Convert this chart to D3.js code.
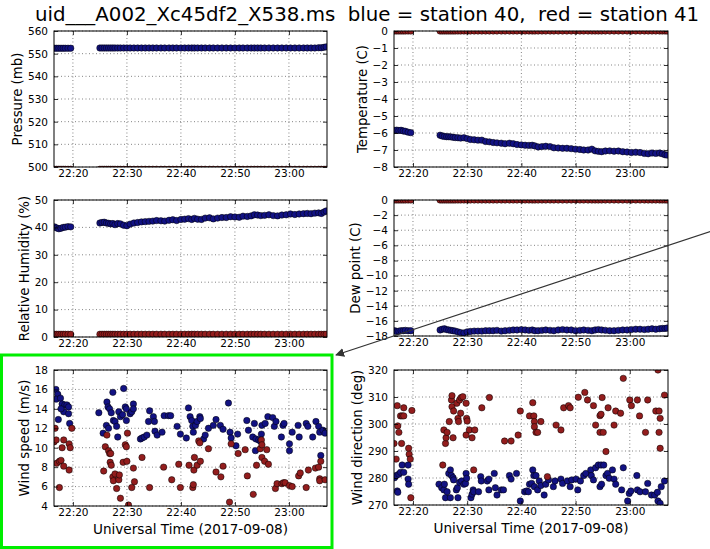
<!DOCTYPE html>
<html>
<head>
<meta charset="utf-8">
<script src="https://cdn.jsdelivr.net/npm/d3@7"></script>
<style>
  body { margin: 0; background: #fff; }
  svg { display: block; font-family: 'DejaVu Sans', sans-serif; }
</style>
</head>
<body>
<div id="chart"></div>
<script>
// minutes after 22:00 UTC, 2017-09-08
const thermoTimes = [16.6, 17.0, 17.4, 17.8, 18.2, 18.6, 19.1, 19.6,
  25.0, 25.4, 25.8, 26.2, 26.6, 27.0, 27.4, 27.8, 28.3, 28.8, 29.4, 30.0, 30.6, 31.3, 32.0, 32.7,
  33.4, 34.1, 34.8, 35.5, 36.3, 37.0, 37.8, 38.5, 39.2, 40.0, 40.7, 41.4, 42.0, 42.5, 43.1, 43.8,
  44.5, 45.3, 46.0, 46.8, 47.6, 48.4, 49.2, 50.0, 50.8, 51.5, 52.3, 53.0, 53.6, 54.2, 54.8, 55.5,
  56.3, 57.1, 57.9, 58.7, 59.5, 60.3, 61.1, 61.9, 62.7, 63.4, 64.1, 64.8, 65.5, 66.0, 66.5, 66.9]

const pressureBlue = [552.4, 552.4, 552.4, 552.4, 552.4, 552.4, 552.4, 552.4,
  552.5, 552.5, 552.5, 552.5, 552.5, 552.5, 552.5, 552.5, 552.5, 552.5, 552.5, 552.5, 552.5, 552.5, 552.5, 552.5,
  552.5, 552.5, 552.5, 552.5, 552.5, 552.5, 552.5, 552.5, 552.5, 552.5, 552.5, 552.5, 552.5, 552.5, 552.5, 552.5,
  552.5, 552.5, 552.5, 552.5, 552.5, 552.5, 552.5, 552.5, 552.5, 552.5, 552.5, 552.5, 552.5, 552.5, 552.5, 552.5,
  552.5, 552.5, 552.5, 552.5, 552.5, 552.5, 552.5, 552.5, 552.5, 552.5, 552.5, 552.5, 552.6, 552.6, 552.8, 553.0]
const pressureRed = [499.0, 499.0, 499.0, 499.0, 499.0, 499.0, 499.0, 499.0,
  499.0, 499.0, 499.0, 499.0, 499.0, 499.0, 499.0, 499.0, 499.0, 499.0, 499.0, 499.0, 499.0, 499.0, 499.0, 499.0,
  499.0, 499.0, 499.0, 499.0, 499.0, 499.0, 499.0, 499.0, 499.0, 499.0, 499.0, 499.0, 499.0, 499.0, 499.0, 499.0,
  499.0, 499.0, 499.0, 499.0, 499.0, 499.0, 499.0, 499.0, 499.0, 499.0, 499.0, 499.0, 499.0, 499.0, 499.0, 499.0,
  499.0, 499.0, 499.0, 499.0, 499.0, 499.0, 499.0, 499.0, 499.0, 499.0, 499.0, 499.0, 499.0, 499.0, 499.0, 499.0]

const tempBlue = [-5.85, -5.83, -5.85, -5.84, -5.88, -5.90, -5.95, -5.98,
  -6.13, -6.18, -6.20, -6.22, -6.22, -6.23, -6.25, -6.27, -6.28, -6.30, -6.28, -6.33, -6.38, -6.40, -6.42, -6.42,
  -6.50, -6.52, -6.56, -6.58, -6.60, -6.63, -6.60, -6.63, -6.68, -6.70, -6.72, -6.73, -6.72, -6.76, -6.82, -6.80,
  -6.78, -6.80, -6.87, -6.88, -6.90, -6.90, -6.92, -6.95, -6.97, -7.00, -7.00, -6.95, -7.05, -7.08, -7.10, -7.06,
  -7.05, -7.07, -7.06, -7.10, -7.12, -7.15, -7.13, -7.15, -7.20, -7.22, -7.18, -7.20, -7.18, -7.22, -7.28, -7.30]
const tempRed = [0, 0, 0, 0, 0, 0, 0, 0,
  0, 0, 0, 0, 0, 0, 0, 0, 0, 0, 0, 0, 0, 0, 0, 0,
  0, 0, 0, 0, 0, 0, 0, 0, 0, 0, 0, 0, 0, 0, 0, 0,
  0, 0, 0, 0, 0, 0, 0, 0, 0, 0, 0, 0, 0, 0, 0, 0,
  0, 0, 0, 0, 0, 0, 0, 0, 0, 0, 0, 0, 0, 0, 0, 0]

const rhBlue = [40.2, 39.8, 39.5, 39.7, 40.0, 40.1, 40.3, 40.2,
  41.6, 41.8, 41.9, 41.6, 41.5, 41.3, 41.4, 41.0, 41.4, 41.3, 40.8, 40.6, 41.2, 41.6, 41.8, 42.0,
  42.1, 42.2, 42.3, 42.5, 42.4, 42.3, 42.6, 42.8, 42.5, 42.9, 43.0, 43.2, 42.9, 43.3, 43.0, 42.9,
  43.4, 43.5, 43.1, 43.4, 43.6, 43.6, 43.9, 43.8, 43.7, 44.1, 44.0, 44.2, 44.6, 44.5, 44.3, 44.4,
  44.6, 44.3, 44.2, 44.5, 44.6, 44.9, 44.7, 44.9, 45.0, 45.1, 45.0, 45.2, 45.3, 45.1, 45.6, 46.0]
const rhRed = [1.0, 1.0, 1.0, 1.0, 1.0, 1.0, 1.0, 1.0,
  1.0, 1.0, 1.0, 1.0, 1.0, 1.0, 1.0, 1.0, 1.0, 1.0, 1.0, 1.0, 1.0, 1.0, 1.0, 1.0,
  1.0, 1.0, 1.0, 1.0, 1.0, 1.0, 1.0, 1.0, 1.0, 1.0, 1.0, 1.0, 1.0, 1.0, 1.0, 1.0,
  1.0, 1.0, 1.0, 1.0, 1.0, 1.0, 1.0, 1.0, 1.0, 1.0, 1.0, 1.0, 1.0, 1.0, 1.0, 1.0,
  1.0, 1.0, 1.0, 1.0, 1.0, 1.0, 1.0, 1.0, 1.0, 1.0, 1.0, 1.0, 1.0, 1.0, 1.0, 1.0]

const dewBlue = [-17.3, -17.4, -17.35, -17.3, -17.3, -17.25, -17.3, -17.3,
  -17.2, -17.1, -17.05, -17.15, -17.2, -17.25, -17.3, -17.35, -17.45, -17.55, -17.6, -17.45, -17.4, -17.35, -17.35, -17.35,
  -17.3, -17.3, -17.3, -17.25, -17.35, -17.3, -17.25, -17.2, -17.2, -17.15, -17.2, -17.25, -17.2, -17.3, -17.3, -17.25,
  -17.2, -17.25, -17.3, -17.2, -17.15, -17.2, -17.2, -17.3, -17.25, -17.2, -17.25, -17.3, -17.2, -17.15, -17.2, -17.25,
  -17.3, -17.3, -17.25, -17.2, -17.2, -17.15, -17.1, -17.1, -17.15, -17.1, -17.05, -17.1, -17.05, -17.0, -17.0, -16.95]
const dewRed = tempRed

// wind speed (m/s)
const wsBlueT = [16.85, 17.2, 16.9, 17.7, 18.0, 18.5, 18.9, 19.2, 18.3, 19.2, 17.3, 19.4, 17.8,
  24.8, 25.6, 26.2, 26.3, 26.5, 26.8, 26.6, 27.1, 27.4, 27.5, 27.8, 28.1, 28.3, 28.5, 28.8, 29.2,
  29.4, 29.7, 29.9, 29.9, 30.6, 30.9, 31.2, 31.2, 32.5, 32.8, 33.2, 33.7, 34.0, 34.2, 34.9, 35.1,
  35.2, 35.6, 36.5, 36.9, 37.7, 38.1, 39.3, 39.9, 41.0, 41.4, 41.7, 42.0, 42.2, 42.3, 42.7, 43.0,
  43.5, 43.6, 44.2, 44.5, 45.1, 46.0, 46.5, 47.3, 47.8, 48.8, 49.1, 49.3, 50.2, 50.5, 52.2, 52.5,
  53.3, 53.6, 53.8, 53.9, 54.4, 54.7, 54.9, 55.0, 55.6, 56.1, 57.0, 57.3, 57.6, 58.6, 58.9, 59.1,
  60.1, 60.1, 60.6, 61.7, 61.9, 63.2, 63.5, 64.4, 65.0, 65.5, 65.7, 65.9, 66.3, 66.7]
const wsBlueV = [16.0, 15.5, 15.0, 15.1, 14.5, 14.4, 14.4, 14.2, 13.7, 13.5, 12.9, 12.5, 14.0,
  13.6, 11.5, 12.3, 14.7, 14.2, 14.0, 12.0, 13.6, 15.7, 12.8, 12.7, 12.2, 11.1, 13.7, 13.2, 13.4,
  16.1, 14.2, 14.0, 12.8, 13.5, 13.7, 14.5, 14.0, 10.9, 11.0, 11.1, 11.3, 12.7, 13.8, 13.2, 12.7,
  11.7, 11.3, 11.6, 13.3, 13.3, 13.3, 12.2, 11.4, 11.0, 14.1, 13.2, 12.8, 12.2, 11.6, 12.3, 12.7,
  13.2, 13.0, 10.9, 11.3, 12.0, 12.3, 12.9, 12.3, 11.9, 14.6, 11.6, 11.0, 10.2, 11.4, 12.8, 11.8,
  11.1, 12.5, 9.7, 10.9, 10.8, 10.7, 11.4, 12.3, 12.5, 13.2, 13.1, 12.2, 12.7, 11.1, 12.3, 12.5,
  10.4, 9.7, 11.6, 12.3, 11.1, 12.5, 12.2, 11.1, 12.7, 12.2, 11.6, 9.2, 11.8, 11.5]
const wsRedT = [16.7, 16.5, 16.9, 17.0, 17.5, 17.8, 17.5, 18.0, 18.3, 18.3, 19.3, 19.5, 19.3, 19.8,
  25.7, 26.0, 26.3, 26.6, 26.8, 27.0, 26.9, 27.1, 27.4, 27.5, 27.8, 28.1, 28.5, 28.6, 28.8, 29.3,
  29.7, 29.9, 30.0, 30.1, 30.3, 30.9, 31.2, 31.4, 32.8, 34.2, 36.8, 38.3, 39.6, 39.9, 41.5, 42.2,
  42.3, 42.4, 42.5, 43.0, 43.3, 43.5, 43.6, 45.1, 46.5, 47.4, 47.8, 49.0, 49.3, 50.6, 51.9, 52.3,
  53.4, 54.0, 54.7, 54.9, 55.0, 55.0, 55.5, 55.9, 56.2, 57.5, 57.8, 58.7, 59.0, 59.3, 60.1, 60.6,
  61.8, 62.1, 63.2, 63.6, 64.9, 65.5, 65.7, 65.7, 65.9, 66.7]
const wsRedV = [12.0, 10.6, 10.8, 8.4, 8.6, 8.7, 5.9, 10.0, 10.8, 8.1, 10.4, 10.0, 7.7, 12.0,
  7.6, 10.1, 11.3, 9.7, 9.4, 9.4, 8.5, 8.2, 7.0, 6.6, 7.3, 5.8, 6.7, 7.2, 4.8, 8.5,
  10.3, 10.1, 8.6, 11.5, 4.1, 5.9, 7.9, 6.5, 9.0, 5.9, 8.0, 6.7, 8.3, 5.9, 8.2, 5.9,
  6.2, 7.7, 9.0, 8.2, 10.7, 10.5, 8.6, 9.9, 7.5, 7.0, 8.1, 4.4, 10.4, 9.4, 9.8, 7.1,
  5.2, 8.2, 9.9, 10.8, 10.3, 9.0, 8.6, 9.8, 8.3, 5.8, 6.3, 6.3, 6.4, 6.4, 6.1, 6.0,
  7.1, 7.4, 5.9, 7.7, 7.9, 8.0, 6.8, 6.6, 8.6, 6.7]

// wind direction (deg)
const wdBlueT = [16.6, 16.9, 17.1, 17.2, 17.4, 17.7, 18.0, 18.3, 19.1, 19.1, 19.2,
  24.8, 25.3, 25.7, 25.8, 26.0, 26.3, 26.6, 26.9, 26.9, 27.1, 27.4, 27.5, 28.0, 28.2, 28.3, 28.6,
  29.0, 29.4, 29.7, 29.8, 29.9, 30.7, 30.9, 31.1, 31.2, 32.1, 32.5, 32.6, 33.7, 34.0, 34.0, 35.0,
  35.2, 35.5, 36.3, 36.7, 37.8, 38.1, 39.1, 39.8, 40.6, 41.0, 41.3, 41.5, 41.9, 42.1, 42.3, 42.4,
  42.7, 43.0, 43.3, 43.6, 44.2, 44.5, 45.0, 45.9, 46.2, 47.3, 47.6, 48.5, 49.0, 49.3, 50.1, 50.4,
  50.9, 51.5, 51.9, 52.8, 52.9, 53.3, 53.7, 54.2, 54.5, 54.7, 54.8, 55.2, 55.6, 55.9, 56.2, 56.8,
  57.1, 57.4, 58.5, 58.8, 59.6, 59.9, 60.2, 61.3, 61.4, 61.9, 62.9, 63.3, 64.0, 64.6, 65.1, 65.2,
  65.6, 65.8, 66.4]
const wdBlueV = [280.1, 280.9, 275.2, 274.7, 281.4, 282.1, 284.8, 282.1, 284.8, 279.6, 277.7,
  277.7, 276.4, 275.6, 277.7, 272.7, 274.9, 281.7, 283.0, 272.7, 280.9, 280.1, 279.3, 275.6, 276.4, 272.7, 278.4,
  278.9, 277.7, 278.0, 281.7, 279.9, 272.7, 274.0, 275.6, 274.9, 274.9, 280.5, 278.9, 278.9, 279.6, 275.6, 281.7,
  276.4, 273.7, 275.6, 275.6, 280.9, 279.6, 281.7, 271.5, 274.9, 275.2, 274.9, 277.7, 278.0, 283.0, 280.9, 276.8,
  280.9, 275.6, 278.9, 277.2, 273.7, 277.7, 279.3, 276.8, 278.9, 279.6, 278.0, 278.9, 276.8, 279.3, 279.6, 275.6,
  278.9, 280.9, 281.7, 283.0, 280.9, 279.3, 283.8, 284.8, 276.8, 284.8, 277.7, 284.8, 280.9, 281.7, 279.9, 283.0,
  279.6, 277.7, 275.6, 283.8, 271.5, 274.3, 275.2, 280.9, 275.6, 274.9, 274.9, 278.0, 273.7, 273.7, 274.7, 271.5,
  270.6, 276.8, 278.9]
const wdRedT = [16.5, 16.9, 17.1, 17.2, 17.4, 17.7, 18.0, 18.3, 17.9, 18.3, 19.2, 19.3, 19.5, 19.6, 19.8,
  25.5, 25.7, 26.0, 26.1, 26.3, 26.7, 27.1, 27.2, 27.2, 27.5, 27.4, 28.1, 28.3, 28.4, 28.6, 28.8,
  28.9, 29.2, 29.8, 29.9, 30.0, 29.8, 30.4, 30.9, 31.4, 31.2, 32.7, 34.1, 36.9, 38.1, 39.4, 39.8,
  41.5, 42.1, 42.3, 42.4, 42.4, 42.7, 43.0, 43.6, 44.8, 46.4, 47.3, 47.8, 48.7, 49.0, 50.5, 51.7,
  52.2, 53.3, 53.7, 54.5, 54.7, 54.9, 54.5, 55.1, 55.6, 56.0, 57.1, 57.4, 58.3, 58.8, 60.0, 60.3,
  61.4, 61.8, 62.9, 63.3, 64.8, 65.4, 65.4, 65.6, 65.6, 65.2, 66.4]
const wdRedV = [292.8, 287.0, 306.8, 299.3, 296.9, 303.0, 303.0, 303.0, 292.8, 306.0, 291.0, 288.8, 287.0, 272.7, 305.0,
  284.8, 297.8, 292.8, 294.9, 296.9, 300.9, 308.9, 310.5, 306.4, 304.8, 294.9, 307.7, 302.1, 300.9, 308.9, 304.0,
  309.8, 310.1, 307.7, 302.1, 301.1, 295.9, 297.8, 294.9, 297.8, 283.0, 306.0, 309.8, 293.7, 293.7, 295.9, 304.8,
  303.0, 307.9, 303.0, 300.9, 299.0, 296.9, 296.9, 300.9, 280.5, 299.6, 297.8, 306.0, 306.8, 306.0, 309.9, 311.7,
  308.9, 306.8, 299.6, 303.1, 303.6, 309.8, 296.9, 296.9, 289.8, 306.0, 299.6, 304.8, 304.0, 316.9, 308.9, 306.8,
  308.9, 303.0, 296.9, 308.9, 304.8, 304.8, 296.9, 302.1, 291.0, 320.0, 310.7]

const xTickMinutes = [20, 30, 40, 50, 60]
const titleText = 'uid___A002_Xc45df2_X538.ms  blue = station 40,  red = station 41'
const xLabelText = 'Universal Time (2017-09-08)'

const blueFill = '#121283'
const redFill = '#931d1d'

const panels = [
  { id: 'p', x: 54, y: 31, w: 273, h: 136, label: 'Pressure (mb)', domain: [500, 560], ticks: [500, 510, 520, 530, 540, 550, 560],
    series: [{ t: thermoTimes, v: pressureRed, c: redFill }, { t: thermoTimes, v: pressureBlue, c: blueFill }] },
  { id: 't', x: 394, y: 31, w: 274, h: 136, label: 'Temperature (C)', domain: [-8, 0], ticks: [-8, -7, -6, -5, -4, -3, -2, -1, 0],
    series: [{ t: thermoTimes, v: tempRed, c: redFill }, { t: thermoTimes, v: tempBlue, c: blueFill }] },
  { id: 'rh', x: 54, y: 200, w: 273, h: 137, label: 'Relative Humidity (%)', domain: [0, 50], ticks: [0, 10, 20, 30, 40, 50],
    series: [{ t: thermoTimes, v: rhRed, c: redFill }, { t: thermoTimes, v: rhBlue, c: blueFill }] },
  { id: 'dp', x: 394, y: 200, w: 274, h: 136, label: 'Dew point (C)', domain: [-18, 0], ticks: [-18, -16, -14, -12, -10, -8, -6, -4, -2, 0],
    series: [{ t: thermoTimes, v: dewRed, c: redFill }, { t: thermoTimes, v: dewBlue, c: blueFill }] },
  { id: 'ws', x: 54, y: 370, w: 273, h: 136, label: 'Wind speed (m/s)', domain: [4, 18], ticks: [4, 6, 8, 10, 12, 14, 16, 18], xlabel: true,
    series: [{ t: wsBlueT, v: wsBlueV, c: blueFill }, { t: wsRedT, v: wsRedV, c: redFill }] },
  { id: 'wd', x: 394, y: 370, w: 274, h: 135, label: 'Wind direction (deg)', domain: [270, 320], ticks: [270, 280, 290, 300, 310, 320], xlabel: true,
    series: [{ t: wdBlueT, v: wdBlueV, c: blueFill }, { t: wdRedT, v: wdRedV, c: redFill }] }
]

const base = Date.UTC(2017, 8, 8, 22, 0, 0)
const toDate = m => new Date(base + m * 60000)

const svg = d3.select('#chart').append('svg')
  .attr('width', 710)
  .attr('height', 549)

svg.append('rect').attr('width', 710).attr('height', 549).attr('fill', '#fff')

svg.append('text')
  .attr('x', 35).attr('y', 20.5)
  .attr('font-size', 19.8)
  .attr('fill', '#000')
  .style('white-space', 'pre')
  .text(titleText)

panels.forEach(drawPanel)

function drawPanel(p) {
  const xSc = d3.scaleUtc()
    .domain([toDate(16.5), toDate(67.05)])
    .range([0, p.w])
  const ySc = d3.scaleLinear()
    .domain(p.domain)
    .range([p.h, 0])

  const g = svg.append('g')
    .attr('transform', `translate(${p.x},${p.y})`)

  svg.append('clipPath').attr('id', 'clip-' + p.id)
    .append('rect').attr('width', p.w).attr('height', p.h)

  // grid
  const grid = g.append('g').attr('stroke', '#333').attr('stroke-width', 0.6).attr('stroke-dasharray', '1,2.5')
  xTickMinutes.forEach(m => {
    grid.append('line').attr('x1', xSc(toDate(m))).attr('x2', xSc(toDate(m))).attr('y1', 0).attr('y2', p.h)
  })
  p.ticks.forEach(v => {
    grid.append('line').attr('x1', 0).attr('x2', p.w).attr('y1', ySc(v)).attr('y2', ySc(v))
  })

  // points
  const pts = g.append('g').attr('clip-path', `url(#clip-${p.id})`)
  p.series.forEach(s => {
    pts.append('g').selectAll('circle')
      .data(s.t.map((t, i) => [t, s.v[i]]))
      .join('circle')
        .attr('cx', d => xSc(toDate(d[0])))
        .attr('cy', d => ySc(d[1]))
        .attr('r', 3.2)
        .attr('fill', s.c)
        .attr('stroke', '#000')
        .attr('stroke-width', 0.5)
  })

  // axes, ticks inside on all sides
  const tickVals = xTickMinutes.map(toDate)
  const xAxisMkr = d3.axisBottom(xSc).tickValues(tickVals).tickFormat(d3.utcFormat('%H:%M')).tickSizeInner(-4).tickSizeOuter(0).tickPadding(3)
  const xTopMkr = d3.axisTop(xSc).tickValues(tickVals).tickFormat('').tickSizeInner(-4).tickSizeOuter(0)
  const yAxisMkr = d3.axisLeft(ySc).tickValues(p.ticks).tickSizeInner(-4).tickSizeOuter(0).tickPadding(6)
  const yRightMkr = d3.axisRight(ySc).tickValues(p.ticks).tickFormat('').tickSizeInner(-4).tickSizeOuter(0)

  g.append('g').attr('transform', `translate(0,${p.h})`).call(xAxisMkr)
  g.append('g').call(xTopMkr)
  const yAxis = g.append('g').call(yAxisMkr)
  g.append('g').attr('transform', `translate(${p.w},0)`).call(yRightMkr)

  g.selectAll('.domain').remove()
  g.selectAll('.tick line').attr('stroke', '#000').attr('stroke-width', 0.8)
  g.selectAll('.tick text').attr('font-size', 10.5).attr('font-family', 'DejaVu Sans').attr('fill', '#000')

  g.append('rect')
    .attr('width', p.w).attr('height', p.h)
    .attr('fill', 'none').attr('stroke', '#000').attr('stroke-width', 1)

  const bb = yAxis.node().getBBox()
  g.append('text')
    .attr('transform', `translate(${bb.x - 6},${p.h / 2}) rotate(-90)`)
    .attr('text-anchor', 'middle')
    .attr('font-size', 13.3)
    .attr('fill', '#000')
    .text(p.label)

  if (p.xlabel) {
    g.append('text')
      .attr('x', p.w / 2).attr('y', p.h + 28)
      .attr('text-anchor', 'middle')
      .attr('font-size', 13.6)
      .attr('fill', '#000')
      .text(xLabelText)
  }
}

// annotation: arrow and green box
svg.append('defs').append('marker')
  .attr('id', 'arrowhead')
  .attr('viewBox', '0 0 10 10')
  .attr('refX', 9).attr('refY', 5)
  .attr('markerWidth', 9).attr('markerHeight', 9)
  .attr('markerUnits', 'userSpaceOnUse')
  .attr('orient', 'auto')
  .append('path').attr('d', 'M0,0 L10,5 L0,10 z').attr('fill', '#333')

svg.append('line')
  .attr('x1', 712).attr('y1', 231)
  .attr('x2', 336).attr('y2', 355)
  .attr('stroke', '#333').attr('stroke-width', 1.2)
  .attr('marker-end', 'url(#arrowhead)')

svg.append('rect')
  .attr('x', 1.5).attr('y', 355)
  .attr('width', 330.5).attr('height', 192.5)
  .attr('fill', 'none')
  .attr('stroke', '#00ee00')
  .attr('stroke-width', 3)
</script>
</body>
</html>
